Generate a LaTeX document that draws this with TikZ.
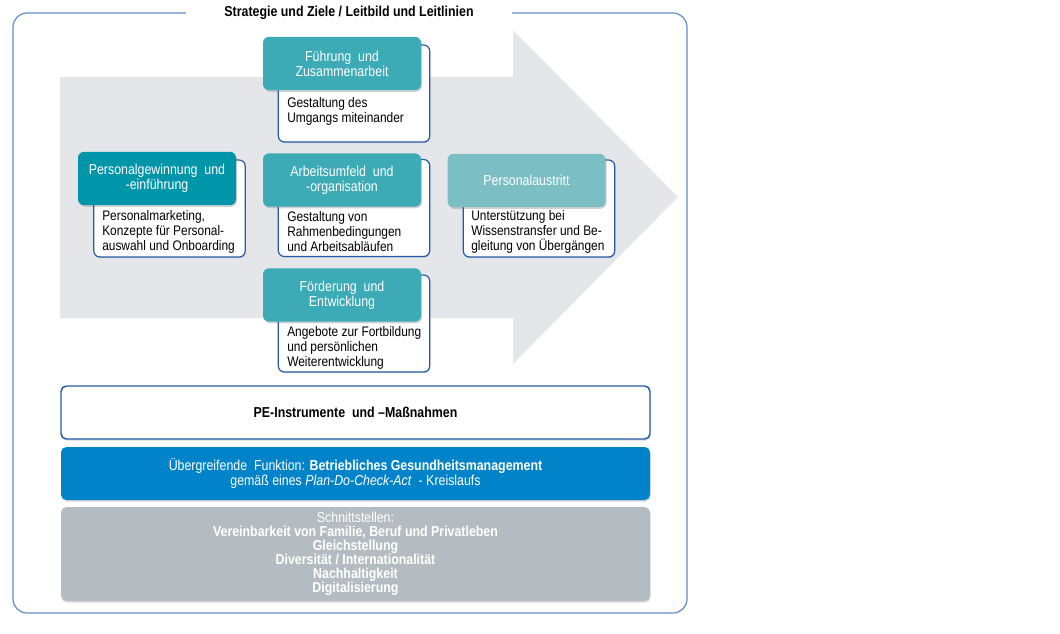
\documentclass[tikz,border=0pt]{standalone}
\usepackage{fontspec}
\setmainfont{Liberation Sans}[FakeStretch=0.86]
\usetikzlibrary{shadows}
\definecolor{tealdark}{RGB}{0,149,168}
\definecolor{tealmid}{RGB}{60,171,182}
\definecolor{teallight}{RGB}{123,191,197}
\definecolor{arrowgray}{RGB}{229,230,234}
\definecolor{outerblue}{RGB}{95,140,200}
\definecolor{boxblue}{RGB}{38,90,168}
\definecolor{bgmblue}{RGB}{0,131,201}
\definecolor{schgray}{RGB}{181,188,193}
\begin{document}
\begin{tikzpicture}[x=0.75pt,y=-0.75pt,
  font=\fontsize{10.8}{11.2}\selectfont,
  head/.style={rectangle, rounded corners=4.5pt, text=white, align=center,
    minimum width=118.5pt, minimum height=40pt, inner sep=2pt,
    drop shadow={opacity=0.35, shadow xshift=0.8pt, shadow yshift=-1.2pt}},
  whitebox/.style={rectangle, rounded corners=4.5pt, draw=boxblue, line width=0.9pt,
    fill=white, minimum width=113.5pt, minimum height=72.75pt, inner sep=0pt,
    drop shadow={opacity=0.25, shadow xshift=0.6pt, shadow yshift=-0.8pt}},
  bodytext/.style={anchor=north west, align=left, inner sep=0pt, text=black,
    font=\fontsize{10.4}{11.2}\selectfont},
  band/.style={rectangle, rounded corners=4pt, minimum width=441.75pt, align=center,
    inner sep=0pt,
    drop shadow={opacity=0.3, shadow xshift=0.5pt, shadow yshift=-1.2pt}}
  ]
\useasboundingbox (0,0) rectangle (1060,633);
% outer frame
\draw[outerblue, line width=0.9pt, rounded corners=10.5pt] (13,13) rectangle (687,613);
% big arrow
\fill[arrowgray] (60,77) -- (513,77) -- (513,30) -- (678,197) -- (513,364) -- (513,318) -- (60,318) -- cycle;
% title
\node[fill=white, minimum width=244.5pt, inner ysep=3pt, font=\fontsize{10.8}{11}\selectfont\bfseries] (title) at (349,13) {Strategie und Ziele / Leitbild und Leitlinien};

% Box 1
\node[whitebox] (w1) at (169.5,208.5) {};
\node[head, fill=tealdark] (h1) at (157,178.5) {Personalgewinnung~ und\\-einführung};
\node[bodytext] (t1) at (102,210.5) {Personalmarketing,\\Konzepte für Personal-\\auswahl und Onboarding};

% Box 2
\node[whitebox] (w2) at (354,93.5) {};
\node[head, fill=tealmid] (h2) at (342,63.5) {Führung~ und\\Zusammenarbeit};
\node[bodytext] (t2) at (287,97.5) {Gestaltung des\\Umgangs miteinander};

% Box 3
\node[whitebox] (w3) at (354,208) {};
\node[head, fill=tealmid] (h3) at (342,180) {Arbeitsumfeld~ und\\-organisation};
\node[bodytext] (t3) at (287,211.5) {Gestaltung von\\Rahmenbedingungen\\und Arbeitsabläufen};

% Box 4
\node[whitebox] (w4) at (354,323.5) {};
\node[head, fill=tealmid] (h4) at (342,295) {Förderung~ und\\Entwicklung};
\node[bodytext] (t4) at (287,326.5) {Angebote zur Fortbildung\\und persönlichen\\Weiterentwicklung};

% Box 5
\node[whitebox] (w5) at (539,208.5) {};
\node[head, fill=teallight] (h5) at (526.5,180.5) {Personalaustritt};
\node[bodytext] (t5) at (471,210.5) {Unterstützung bei\\Wissenstransfer und Be-\\gleitung von Übergängen};

% bottom bands
\node[band, draw=boxblue, line width=1.1pt, fill=white, minimum height=39.75pt, font=\fontsize{10.8}{11}\selectfont\bfseries] (pe) at (355.5,412.5) {PE-Instrumente~ und –Maßnahmen};
\node[band, fill=bgmblue, text=white, minimum height=39.75pt] (bgm) at (355.5,473.5) {Übergreifende~ Funktion: \textbf{Betriebliches Gesundheitsmanagement}\\gemäß eines \textit{Plan-Do-Check-Act}~ - Kreislaufs};
\node[band, fill=schgray, text=white, minimum height=70.5pt, font=\fontsize{10.8}{10.5}\selectfont] (sch) at (355.5,554) {Schnittstellen:\\\textbf{Vereinbarkeit von Familie, Beruf und Privatleben}\\\textbf{Gleichstellung}\\\textbf{Diversität / Internationalität}\\\textbf{Nachhaltigkeit}\\\textbf{Digitalisierung}};
\end{tikzpicture}
\end{document}
